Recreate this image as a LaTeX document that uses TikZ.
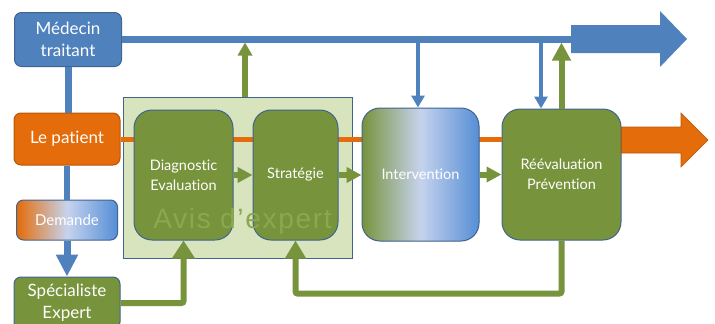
\documentclass[tikz,border=0pt]{standalone}
\usepackage{fontspec}
\setmainfont{Lato}[Ligatures={NoCommon}]
\newfontfamily\avisfont[LetterSpace=6]{Liberation Sans}
\usetikzlibrary{arrows.meta}
\definecolor{cblue}{HTML}{4F81BD}
\definecolor{cbluer}{HTML}{558ED5}
\definecolor{corange}{HTML}{E46C0A}
\definecolor{corangeb}{HTML}{B65708}
\definecolor{cgreen}{HTML}{77933C}
\definecolor{clight}{HTML}{D7E4BD}
\definecolor{cborder}{HTML}{41648F}
\definecolor{clav}{HTML}{C6D3EE}
\definecolor{cavis}{HTML}{8BA84E}
\tikzset{
  smallbox/.style={rectangle, draw=cborder, line width=1pt, rounded corners=7pt, text=white, align=center, inner sep=0pt, font=\fontsize{17}{22}\selectfont},
  bigbox/.style={rectangle, draw=cborder, line width=1pt, rounded corners=18pt, text=white, align=center, inner sep=0pt, font=\fontsize{14.5}{20}\selectfont, fill=cgreen},
  bline/.style={draw=cblue, line width=6.5pt},
  oline/.style={draw=corange, line width=5pt},
  gline/.style={draw=cgreen, line width=6pt},
  bdown/.style={draw=cblue, line width=3.5pt, -{Triangle[width=13pt,length=12pt]}},
  gup/.style={draw=cgreen, line width=6pt, -{Triangle[width=16pt,length=15pt]}},
  gstep/.style={draw=cgreen, line width=6pt, -{Triangle[width=15pt,length=15pt]}},
  fatarrow/.style={line width=0.6pt, line join=miter}
}
\begin{document}
\begin{tikzpicture}[x=1pt,y=-1pt]
\useasboundingbox (0,0) rectangle (715,324);
% boxes at the left
\node[smallbox, fill=cblue, draw=cborder, minimum width=107pt, minimum height=54pt] (med) at (68,39.5) {Médecin\\traitant};
\node[smallbox, fill=corange, draw=corangeb, minimum width=106pt, minimum height=52pt] (pat) at (67,139) {Le patient};
\node[smallbox, left color=corange, right color=cbluer, middle color=clav, minimum width=101pt, minimum height=40pt, font=\fontsize{15}{18}\selectfont] (dem) at (67,220) {Demande};
\node[smallbox, fill=cgreen, minimum width=106pt, minimum height=52pt] (spe) at (67,303) {Spécialiste\\Expert};
% expert frame
\node[rectangle, draw=cborder, line width=1pt, fill=clight, minimum width=229pt, minimum height=161pt, inner sep=0pt] (avis) at (237.5,177.5) {};
\node[bigbox, minimum width=119pt, minimum height=131pt] (reev) at (561.5,174.5) {Réévaluation\\Prévention};
% orange patient line
\draw[oline] (pat.east) -- (pat.east -| reev.west);
\node[bigbox, minimum width=99pt, minimum height=130pt] (diag) at (183.5,175) {Diagnostic\\Evaluation};
\node[bigbox, minimum width=85pt, minimum height=130pt] (strat) at (295.5,175) {Stratégie};
\node[bigbox, left color=cgreen, right color=cbluer, middle color=clav, minimum width=117pt, minimum height=133pt] (inter) at (420.5,174.5) {Intervention};
\node[font=\avisfont\fontsize{28}{30}\selectfont, text=cavis, anchor=base, inner sep=0pt] (avistxt) at (242.5,228) {Avis d’expert};
% blue doctor line
\coordinate (bl) at (571,39.5);
\draw[bline] (med.east) -- (bl);
\fill[cblue] (bl |- 0,25) -- (660,25) -- (660,11) -- (687,39) -- (660,67) -- (660,53) -- (bl |- 0,53) -- cycle;
\draw[draw=cblue, line width=7pt] (med.south) -- (med.south |- pat.north);
\draw[draw=cblue, line width=6pt] (pat.south) -- (pat.south |- dem.north);
\draw[draw=cblue, line width=7pt, -{Triangle[width=21pt,length=22pt]}] (dem.south) -- (dem.south |- spe.north);
% orange outcome arrow
\draw[fatarrow, fill=corange, draw=corangeb] (reev.east |- 0,127) -- (681,127) -- (681,113) -- (708,140) -- (681,167) -- (681,153) -- (reev.east |- 0,153) -- cycle;
% vertical exchanges with the doctor
\draw[gup, -{Triangle[width=14pt,length=13pt]}, shorten >=3pt] ([xshift=7.5pt]avis.north) -- ([xshift=7.5pt]avis.north |- bl);
\draw[bdown] ([xshift=-2.5pt]inter.north |- bl) -- ([xshift=-2.5pt]inter.north);
\draw[bdown] ([xshift=-20.5pt]reev.north |- bl) -- ([xshift=-20.5pt]reev.north);
\draw[gup, -{Triangle[width=18pt,length=18pt]}, shorten >=3pt] (reev.north) -- (reev.north |- bl);
% flow between steps
\draw[gstep] (diag.east) -- (strat.west);
\draw[gstep] (strat.east) -- (strat.east -| inter.west);
\draw[gstep] (inter.east) -- (reev.west);
% feedback loops
\draw[gline, rounded corners=2pt, -{Triangle[width=22pt,length=18pt]}] (spe.east) -- (spe.east -| diag.south) -- (diag.south);
\draw[gline, rounded corners=2pt, -{Triangle[width=20pt,length=18pt]}] (reev.south) -- ++(0,53) -| (strat.south);
\end{tikzpicture}
\end{document}
